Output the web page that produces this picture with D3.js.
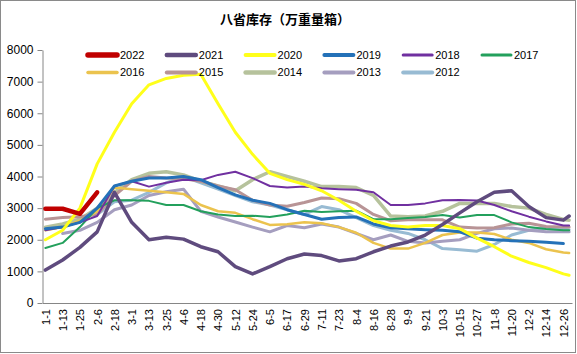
<!DOCTYPE html>
<html><head><meta charset="utf-8">
<script src="https://cdn.jsdelivr.net/npm/d3@7"></script>
<style>html,body{margin:0;padding:0;background:#fff;}svg{display:block;}</style>
</head><body>
<svg id="c" width="577" height="354"></svg>
<script>
const title = "八省库存（万重量箱）";
const dates = ["1-1","1-13","1-25","2-6","2-18","3-1","3-13","3-25","4-6","4-18","4-30","5-12","5-24","6-5","6-17","6-29","7-11","7-23","8-4","8-16","8-28","9-9","9-21","10-3","10-15","10-27","11-8","11-20","12-2","12-14","12-26","12-30"];
const tickLabels = dates.slice(0, 31);
const yTicks = [0,1000,2000,3000,4000,5000,6000,7000,8000];
const years = ["2022","2021","2020","2019","2018","2017","2016","2015","2014","2013","2012"];
const colors = ["#C00000","#5F4B7E","#FFFF1A","#2471B8","#7030A0","#23A05C","#EBC34E","#B89496","#B6C29C","#A59EBF","#98BBD3"];
const widths = [4.5,3.5,3,3,2,2,2.5,3,3.5,3,3];
const v2022 = [2980,2980,2820,3500];
const v2021 = [1040,1360,1760,2250,3500,2550,2000,2080,2020,1780,1620,1150,920,1150,1400,1550,1500,1330,1400,1620,1800,1930,2150,2480,2850,3200,3500,3550,3050,2700,2620,2750];
const v2020 = [2000,2300,3000,4400,5400,6300,6900,7100,7200,7230,6300,5400,4700,4100,3900,3750,3550,3250,2900,2600,2450,2400,2450,2450,2350,2050,1780,1480,1280,1120,920,880];
const v2019 = [2350,2400,2550,3000,3700,3850,3950,3950,4000,3900,3650,3420,3250,3150,2950,2800,2650,2700,2720,2500,2380,2350,2320,2300,2250,2050,2000,1970,1950,1920,1880,null];
const v2018 = [2300,2400,2550,2750,3700,3850,3680,3800,3900,3880,4050,4150,3950,3700,3650,3680,3630,3600,3580,3500,3100,3100,3150,3250,3260,3240,3100,2900,2730,2580,2450,2450];
const v2017 = [1740,1900,2400,3000,3250,3250,3230,3100,3100,2900,2800,2750,2760,2720,2800,2920,2880,2900,2920,2650,2650,2690,2720,2780,2700,2780,2780,2550,2400,2340,2300,2300];
const v2016 = [2300,2400,2600,2900,3650,3600,3550,3500,3450,3100,2900,2850,2650,2470,2490,2550,2520,2400,2220,1900,1720,1720,1900,2150,2230,2230,2180,2000,1900,1700,1600,1580];
const v2015 = [2650,2700,2730,2800,3400,3850,4000,3950,3930,3850,3700,3580,3250,3100,3060,3180,3320,3300,3150,2800,2600,2630,2630,2630,2400,2370,2380,2500,2520,2420,2400,2400];
const v2014 = [2400,2500,2650,3000,3500,3900,4100,4150,4050,3850,3700,3550,3900,4150,4000,3850,3680,3680,3650,3400,2750,2730,2750,2900,3150,3150,3150,3050,3000,2800,2640,2620];
const v2013 = [null,2200,2300,2550,2950,3100,3400,3520,3600,2900,2720,2560,2400,2250,2450,2380,2500,2400,2200,2000,2150,1950,1900,1950,2000,2200,2350,2370,2300,2250,2250,2250];
const v2012 = [null,null,null,2800,3200,3250,3500,3800,4000,3800,3600,3400,3200,3100,2950,2800,3050,2950,2700,2450,2300,2200,2000,1720,1680,1640,1850,2150,2300,2370,2330,2320];
const seriesValues = [v2022,v2021,v2020,v2019,v2018,v2017,v2016,v2015,v2014,v2013,v2012];

const svg = d3.select("#c");
const W = 577, H = 354;
const plot = {left: 42.5, right: 572, top: 50, bottom: 303};

svg.append("rect").attr("x",0.5).attr("y",0.5).attr("width",W-2).attr("height",H-2)
  .attr("fill","#fff").attr("stroke","#8a8a8a").attr("stroke-width",1);

svg.append("text").attr("x",285).attr("y",24).attr("text-anchor","middle")
  .attr("font-family","'Noto Sans CJK SC', sans-serif").attr("font-weight","bold")
  .attr("font-size",13).attr("fill","#000").text(title);

// date -> point index (4-day step, leap-year calendar)
function idx(s){
  const [m,d] = s.split("-").map(Number);
  const doy = (Date.UTC(2020,m-1,d) - Date.UTC(2020,0,1))/86400000;
  return doy/4;
}
const x = d3.scaleLinear().domain([-0.5, 91.5]).range([plot.left, plot.right]);
const y = d3.scaleLinear().domain([0, 8000]).range([plot.bottom, plot.top]);

// y axis
const ya = svg.append("g").attr("transform",`translate(${plot.left},0)`)
  .call(d3.axisLeft(y).tickValues(yTicks).tickFormat(d3.format("d")).tickSize(5).tickPadding(4).tickSizeOuter(0));
ya.select(".domain").attr("stroke","#868686");
ya.selectAll(".tick line").attr("stroke","#868686");
ya.selectAll("text").attr("font-family","'Liberation Sans', Arial, sans-serif").attr("font-size",12).attr("fill","#000");

// x axis
const xa = svg.append("g").attr("transform",`translate(0,${plot.bottom})`)
  .call(d3.axisBottom(x).tickValues(tickLabels.map(idx)).tickFormat((d,i)=>tickLabels[i]).tickSize(0).tickSizeOuter(0));
xa.select(".domain").attr("stroke","#868686");
xa.selectAll("text").attr("font-family","'Liberation Sans', Arial, sans-serif").attr("font-size",11).attr("fill","#000")
  .attr("transform","rotate(-90)").attr("text-anchor","end").attr("x",-6).attr("y",0).attr("dy","0.35em");

// lines
const line = d3.line().defined(d=>d.v!=null).x(d=>x(idx(d.date))).y(d=>y(d.v));
const g = svg.append("g");
for (let s = years.length-1; s >= 0; s--){
  const data = seriesValues[s].map((v,i)=>({date:dates[i], v}));
  g.append("path").datum(data).attr("d",line).attr("fill","none")
    .attr("stroke",colors[s]).attr("stroke-width",widths[s])
    .attr("stroke-linejoin","round").attr("stroke-linecap","round");
}

// legend
const lg = svg.append("g");
years.forEach((yr,i)=>{
  const col = i % 6, row = Math.floor(i/6);
  const lx = 88 + col*78.8, ly = 55 + row*17.5;
  lg.append("line").attr("x1",lx).attr("x2",lx+29).attr("y1",ly).attr("y2",ly)
    .attr("stroke",colors[i]).attr("stroke-width",widths[i]+1).attr("stroke-linecap","round");
  lg.append("text").attr("x",lx+32).attr("y",ly).attr("dy","0.35em")
    .attr("font-family","'Liberation Sans', Arial, sans-serif").attr("font-size",11).attr("fill","#000").text(yr);
});
</script>
</body></html>
